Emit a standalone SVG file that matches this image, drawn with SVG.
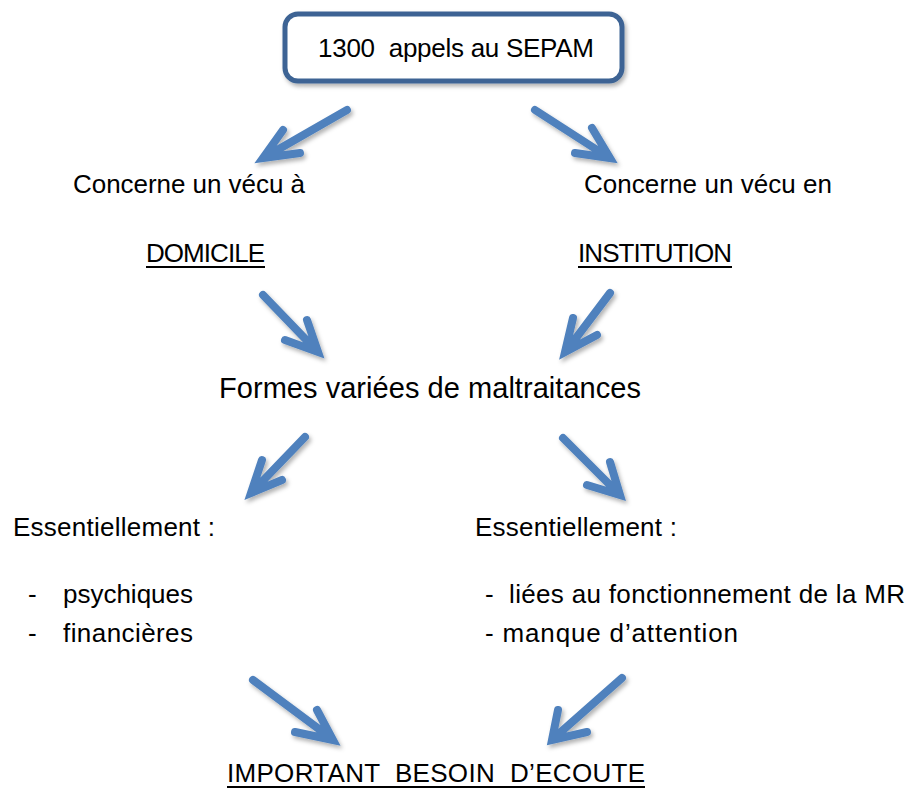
<svg xmlns="http://www.w3.org/2000/svg" width="911" height="789" viewBox="0 0 911 789">
<style>
text{font-family:"Liberation Sans",Arial,sans-serif;fill:#000;}
.t{font-size:26px;}
.big{font-size:29px;}
.ul{stroke:#000;stroke-width:2;}
.arr{fill:none;stroke:#4f81bd;stroke-width:8;stroke-linecap:round;stroke-linejoin:miter;stroke-miterlimit:10;}
</style>
<defs>
<filter id="sh" x="-30%" y="-30%" width="160%" height="160%">
<feDropShadow dx="2" dy="3" stdDeviation="2" flood-color="#000" flood-opacity="0.3"/>
</filter>
</defs>
<rect width="911" height="789" fill="#fff"/>
<g id="connectors" filter="url(#sh)">
<path class="arr" d="M347,110 L265,157 M283,130 L263,158 L300,153"/>
<path class="arr" d="M535,110 L608,157 M592,128 L610,158 L575,153"/>
<path class="arr" d="M263,295 L316,350 M307,320 L318,352 L285,340"/>
<path class="arr" d="M610,293 L567,350 M573,318 L565,352 L597,335"/>
<path class="arr" d="M305,437 L253,491 M262,460 L251,493 L282,480"/>
<path class="arr" d="M563,438 L618,493 M610,462 L620,495 L587,485"/>
<path class="arr" d="M253,680 L331,738 M317,710 L333,740 L295,732"/>
<path class="arr" d="M622,678 L554,738 M558,710 L552,740 L587,732"/>
</g>
<g id="n-sepam">
<rect x="285" y="14" width="337" height="67" rx="13" ry="13" fill="#fff" stroke="#3d6494" stroke-width="5" filter="url(#sh)"/>
<text class="t" x="318" y="57" textLength="276" xml:space="preserve">1300  appels au SEPAM</text>
</g>
<g id="n-domicile">
<text class="t" x="73" y="193" textLength="232">Concerne un vécu à</text>
<text class="t" x="146" y="262" textLength="119">DOMICILE</text>
<line class="ul" x1="146" y1="267" x2="265" y2="267"/>
</g>
<g id="n-institution">
<text class="t" x="584" y="193" textLength="248">Concerne un vécu en</text>
<text class="t" x="578" y="262" textLength="154">INSTITUTION</text>
<line class="ul" x1="578" y1="267" x2="732" y2="267"/>
</g>
<g id="n-formes">
<text class="big" x="219" y="398" textLength="422">Formes variées de maltraitances</text>
</g>
<g id="n-left">
<text class="t" x="13" y="536" textLength="202">Essentiellement :</text>
<text class="t" x="28" y="603">-</text>
<text class="t" x="63" y="603" textLength="130">psychiques</text>
<text class="t" x="28" y="642">-</text>
<text class="t" x="63" y="642" textLength="130">financières</text>
</g>
<g id="n-right">
<text class="t" x="475" y="536" textLength="202">Essentiellement :</text>
<text class="t" x="485" y="603" textLength="420" xml:space="preserve">-  liées au fonctionnement de la MR</text>
<text class="t" x="485" y="642" textLength="253">- manque d’attention</text>
</g>
<g id="n-ecoute">
<text class="t" x="227" y="782" textLength="418" xml:space="preserve">IMPORTANT  BESOIN  D’ECOUTE</text>
<line class="ul" x1="227" y1="787" x2="645" y2="787"/>
</g>
</svg>
